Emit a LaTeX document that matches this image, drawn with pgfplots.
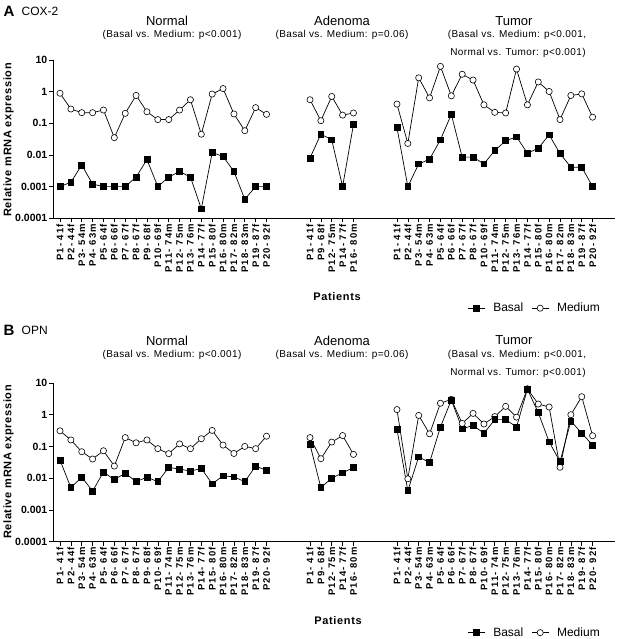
\documentclass[border=0pt]{standalone}
\usepackage{fontspec}
\setmainfont{Liberation Sans}
\newfontfamily\spacedfont[LetterSpace=12]{Liberation Sans}
\newfontfamily\labfont[LetterSpace=6]{Liberation Sans}
\newfontfamily\subfont[LetterSpace=4]{Liberation Sans}
\usepackage{pgfplots}
\pgfplotsset{compat=1.18}

\tikzset{
  med/.style={black, line width=0.7pt, mark=*, mark size=3.1pt, mark options={fill=white, line width=0.6pt}},
  bas/.style={black, line width=0.7pt, mark=square*, mark size=2.9pt, mark options={fill=black}},
}

\pgfplotsset{
  every axis/.append style={
    scale only axis, width=562pt, height=158.5pt,
    xmin=-0.644, xmax=51.06,
    ymin=0.0001, ymax=10,
    axis x line*=bottom, axis y line*=left,
    axis line style={-, line width=0.8pt},
    tick align=outside, major tick length=4pt,
    tick style={line width=0.6pt, black},
    yminorticks=false,
    ytick={0.0001,0.001,0.01,0.1,1,10},
    yticklabels={0.0001,0.001,0.01,0.1,1,10},
    yticklabel style={font=\fontsize{10.5}{10.5}\selectfont\bfseries, inner sep=1.5pt},
    xtick={0,1,2,3,4,5,6,7,8,9,10,11,12,13,14,15,16,17,18,19,23,24,25,26,27,31,32,33,34,35,36,37,38,39,40,41,42,43,44,45,46,47,48,49},
    xticklabels={P1- 41f, P2- 44f, P3- 54m, P4- 63m, P5- 64f, P6- 66f, P7- 67f, P8- 67f, P9- 68f, P10- 69f, P11- 74m, P12- 75m, P13- 76m, P14- 77f, P15- 80f, P16- 80m, P17- 82m, P18- 83m, P19- 87f, P20- 92f,
      P1- 41f, P9- 68f, P12- 75m, P14- 77f, P16- 80m,
      P1- 41f, P2- 44f, P3- 54m, P4- 63m, P5- 64f, P6- 66f, P7- 67f, P8- 67f, P10- 69f, P11- 74m, P12- 75m, P13- 76m, P14- 77f, P15- 80f, P16- 80m, P17- 82m, P18- 83m, P19- 87f, P20- 92f},
    xticklabel style={rotate=90, anchor=east, font=\spacedfont\fontsize{9.5}{9.5}\selectfont\bfseries, inner sep=1.5pt},
    legend columns=2,
    legend style={draw=none, fill=none, font=\fontsize{12}{12}\selectfont, column sep=6pt, anchor=center},
  }
}

\begin{document}
\begin{tikzpicture}
\path[use as bounding box] (0pt,0pt) rectangle (623pt,-639pt);

% ---------------- Panel A ----------------
\begin{semilogyaxis}[at={(53pt,-218.3pt)}, anchor=south west,
  legend style={at={(0.857,-0.567)}}]
\addlegendimage{bas}
\addlegendentry{Basal}
\addlegendimage{med}
\addlegendentry{Medium}
% Normal
\addplot[med, forget plot] coordinates {(0,0.88) (1,0.28) (2,0.215) (3,0.215) (4,0.26) (5,0.035) (6,0.205) (7,0.75) (8,0.23) (9,0.13) (10,0.13) (11,0.26) (12,0.55) (13,0.045) (14,0.83) (15,1.24) (16,0.196) (17,0.058) (18,0.31) (19,0.19)};
\addplot[bas, forget plot] coordinates {(0,0.001) (1,0.00137) (2,0.0048) (3,0.0012) (4,0.001) (5,0.001) (6,0.001) (7,0.002) (8,0.0071) (9,0.001) (10,0.002) (11,0.003) (12,0.002) (13,0.0002) (14,0.0118) (15,0.009) (16,0.003) (17,0.0004) (18,0.001) (19,0.001)};
% Adenoma
\addplot[med, forget plot] coordinates {(23,0.55) (24,0.12) (25,0.7) (26,0.18) (27,0.21)};
\addplot[bas, forget plot] coordinates {(23,0.008) (24,0.045) (25,0.03) (26,0.001) (27,0.092)};
% Tumor
\addplot[med, forget plot] coordinates {(31,0.4) (32,0.023) (33,2.7) (34,0.63) (35,6.2) (36,0.73) (37,3.5) (38,2.3) (39,0.38) (40,0.22) (41,0.21) (42,5.1) (43,0.38) (44,2.0) (45,1.0) (46,0.13) (47,0.75) (48,0.84) (49,0.155)};
\addplot[bas, forget plot] coordinates {(31,0.073) (32,0.001) (33,0.0052) (34,0.0073) (35,0.03) (36,0.19) (37,0.0085) (38,0.0085) (39,0.0052) (40,0.0137) (41,0.028) (42,0.037) (43,0.0113) (44,0.0162) (45,0.043) (46,0.011) (47,0.0041) (48,0.0041) (49,0.001)};
\end{semilogyaxis}

% ---------------- Panel B ----------------
\begin{semilogyaxis}[at={(53pt,-541.5pt)}, anchor=south west,
  legend style={at={(0.857,-0.575)}}]
\addlegendimage{bas}
\addlegendentry{Basal}
\addlegendimage{med}
\addlegendentry{Medium}
% Normal
\addplot[med, forget plot] coordinates {(0,0.31) (1,0.16) (2,0.068) (3,0.04) (4,0.073) (5,0.024) (6,0.19) (7,0.13) (8,0.16) (9,0.085) (10,0.059) (11,0.12) (12,0.085) (13,0.175) (14,0.32) (15,0.11) (16,0.06) (17,0.1) (18,0.085) (19,0.21)};
\addplot[bas, forget plot] coordinates {(0,0.037) (1,0.005) (2,0.0107) (3,0.0039) (4,0.0155) (5,0.0089) (6,0.0144) (7,0.0077) (8,0.0107) (9,0.0077) (10,0.0217) (11,0.0193) (12,0.0166) (13,0.0202) (14,0.0066) (15,0.0118) (16,0.011) (17,0.0077) (18,0.024) (19,0.0175)};
% Adenoma
\addplot[med, forget plot] coordinates {(23,0.19) (24,0.041) (25,0.137) (26,0.22) (27,0.056)};
\addplot[bas, forget plot] coordinates {(23,0.115) (24,0.005) (25,0.01) (26,0.0147) (27,0.0217)};
% Tumor
\addplot[med, forget plot] coordinates {(31,1.45) (32,0.0095) (33,0.95) (34,0.25) (35,2.3) (36,3.05) (37,0.53) (38,1.1) (39,0.51) (40,0.87) (41,1.83) (42,0.84) (43,6.6) (44,2.17) (45,1.75) (46,0.022) (47,1.0) (48,3.7) (49,0.217)};
\addplot[bas, forget plot] coordinates {(31,0.35) (32,0.004) (33,0.047) (34,0.031) (35,0.41) (36,2.9) (37,0.36) (38,0.46) (39,0.26) (40,0.7) (41,0.7) (42,0.41) (43,6.4) (44,1.16) (45,0.14) (46,0.033) (47,0.63) (48,0.26) (49,0.11)};
\end{semilogyaxis}

% ---------------- Texts ----------------
\foreach \dy/\lab/\gene in {0/A/COX-2, 319.5/B/OPN} {
  \node[anchor=west, inner sep=0pt, font=\fontsize{15}{15}\selectfont\bfseries] at (3.5pt,-11pt-\dy pt) {\lab};
  \node[anchor=west, inner sep=0pt, font=\fontsize{12}{12}\selectfont] at (21.5pt,-11pt-\dy pt) {\gene};
  \node[font=\fontsize{13}{13}\selectfont] at (167pt,-21pt-\dy pt) {Normal};
  \node[font=\subfont\fontsize{10}{10}\selectfont] at (172pt,-35pt-\dy pt) {(Basal vs. Medium: p<0.001)};
  \node[font=\fontsize{13}{13}\selectfont] at (342pt,-21pt-\dy pt) {Adenoma};
  \node[font=\subfont\fontsize{10}{10}\selectfont] at (342pt,-35pt-\dy pt) {(Basal vs. Medium: p=0.06)};
  \node[font=\fontsize{13}{13}\selectfont] at (514pt,-21pt-\dy pt) {Tumor};
  \node[font=\subfont\fontsize{10}{10}\selectfont] at (517pt,-35pt-\dy pt) {(Basal vs. Medium: p<0.001,};
  \node[font=\subfont\fontsize{10}{10}\selectfont] at (518pt,-53pt-\dy pt) {Normal vs. Tumor: p<0.001)};
}
\node[rotate=90, font=\labfont\fontsize{11}{11}\selectfont\bfseries] at (8.5pt,-140pt) {Relative mRNA expression};
\node[rotate=90, font=\labfont\fontsize{11}{11}\selectfont\bfseries] at (8.5pt,-462pt) {Relative mRNA expression};
\node[font=\labfont\fontsize{11}{11}\selectfont\bfseries] at (337pt,-297pt) {Patients};
\node[font=\labfont\fontsize{11}{11}\selectfont\bfseries] at (338pt,-621pt) {Patients};
\end{tikzpicture}
\end{document}
